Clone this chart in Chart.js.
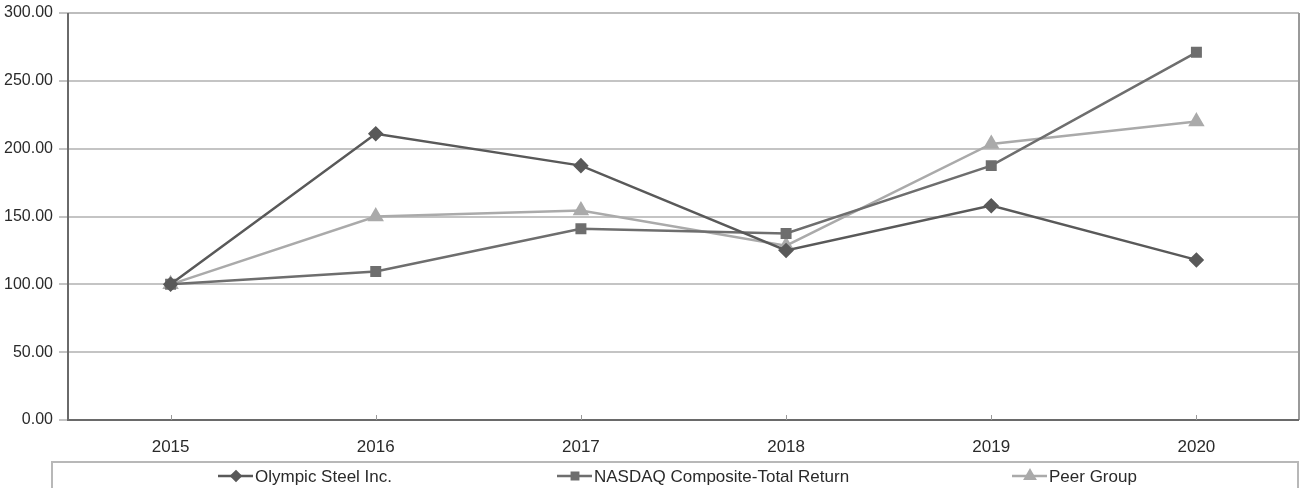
<!DOCTYPE html>
<html><head><meta charset="utf-8">
<script src="https://cdn.jsdelivr.net/npm/chart.js@4/dist/chart.umd.min.js"></script>
<style>html,body{margin:0;padding:0;background:#fff;}#wrap{width:1301px;height:488px;position:relative;}</style>
</head><body><div id="wrap"><canvas id="c" width="1301" height="488"></canvas></div>
<script>
const categories = ['2015','2016','2017','2018','2019','2020'];
const olympic = [100, 211, 187.5, 125, 158, 118];
const nasdaq = [100, 109.5, 141, 137.5, 187.5, 271];
const peer = [100, 150, 154.5, 128.5, 203.5, 220];
const seriesNames = ['Olympic Steel Inc.', 'NASDAQ Composite-Total Return', 'Peer Group'];
const FONT = '"Liberation Sans", Arial, sans-serif';

const frame = {
  id: 'frame',
  afterDatasetsDraw(chart) {
    const {ctx, chartArea: a} = chart;
    ctx.save();
    ctx.strokeStyle = '#bdbdbd';
    ctx.lineWidth = 2;
    ctx.beginPath();
    ctx.moveTo(a.left, a.top); ctx.lineTo(a.right, a.top);
    ctx.stroke();
    ctx.strokeStyle = '#9a9a9a';
    ctx.beginPath();
    ctx.moveTo(a.right, a.top); ctx.lineTo(a.right, a.bottom);
    ctx.stroke();
    ctx.strokeStyle = '#6a6a6a';
    ctx.lineWidth = 2;
    ctx.beginPath();
    ctx.moveTo(a.left, a.top); ctx.lineTo(a.left, a.bottom); ctx.lineTo(a.right, a.bottom);
    ctx.stroke();
    const xs = chart.scales.x;
    ctx.strokeStyle = '#9a9a9a';
    ctx.lineWidth = 1;
    categories.forEach((c, i) => {
      const x = Math.round(xs.getPixelForValue(i)) + 0.5;
      ctx.beginPath(); ctx.moveTo(x, a.bottom); ctx.lineTo(x, a.bottom - 5); ctx.stroke();
    });
    ctx.restore();
  }
};

const legendBox = {
  id: 'legendBox',
  afterDraw(chart) {
    const ctx = chart.ctx;
    ctx.save();
    ctx.strokeStyle = '#b8b8b8';
    ctx.lineWidth = 2;
    ctx.strokeRect(52, 462, 1246, 32);
    const starts = [218, 557, 1012];
    const y = 476;
    ctx.font = '17px ' + FONT;
    ctx.textBaseline = 'middle';
    chart.data.datasets.forEach((ds, i) => {
      const x = starts[i];
      ctx.strokeStyle = ds.borderColor;
      ctx.lineWidth = 2.5;
      ctx.beginPath(); ctx.moveTo(x, y); ctx.lineTo(x + 35, y); ctx.stroke();
      ctx.fillStyle = ds.pointBackgroundColor;
      ctx.strokeStyle = ds.pointBackgroundColor;
      Chart.helpers.drawPoint(ctx, {pointStyle: ds.pointStyle, radius: ds.pointRadius - 1.5, borderWidth: 1, rotation: 0}, x + 18, y);
      ctx.fillStyle = '#2a2a2a';
      ctx.fillText(ds.label, x + 37, y + 1);
    });
    ctx.restore();
  }
};

new Chart(document.getElementById('c'), {
  type: 'line',
  data: {
    labels: categories,
    datasets: [
      {label: seriesNames[0], data: olympic, borderColor: '#595959', pointBackgroundColor: '#595959', pointBorderColor: '#595959', pointStyle: 'rectRot', pointRadius: 6, borderWidth: 2.5, tension: 0},
      {label: seriesNames[1], data: nasdaq, borderColor: '#6e6e6e', pointBackgroundColor: '#6e6e6e', pointBorderColor: '#6e6e6e', pointStyle: 'rect', pointRadius: 6, borderWidth: 2.5, tension: 0},
      {label: seriesNames[2], data: peer, borderColor: '#aaaaaa', pointBackgroundColor: '#aaaaaa', pointBorderColor: '#aaaaaa', pointStyle: 'triangle', pointRadius: 7, borderWidth: 2.5, tension: 0}
    ]
  },
  options: {
    responsive: false,
    animation: false,
    layout: {autoPadding: false, padding: {top: 13, right: 2, left: 0, bottom: 0}},
    plugins: {legend: {display: false}, tooltip: {enabled: false}},
    scales: {
      x: {
        offset: true,
        grid: {display: false},
        border: {display: false},
        ticks: {font: {family: FONT, size: 17}, color: '#2a2a2a', padding: 9},
        afterFit(s) { s.height = 68; s.paddingLeft = 0; s.paddingRight = 0; }
      },
      y: {
        min: 0, max: 300,
        ticks: {stepSize: 50, font: {family: FONT, size: 16}, color: '#2a2a2a', padding: 6,
          callback: v => Number(v).toFixed(2)},
        grid: {color: '#c4c4c4', lineWidth: 2, tickLength: 9, tickColor: '#888', tickWidth: 1, drawTicks: true},
        border: {display: false},
        afterFit(s) { s.width = 68; s.paddingTop = 0; s.paddingBottom = 0; }
      }
    }
  },
  plugins: [frame, legendBox]
});
</script></body></html>
